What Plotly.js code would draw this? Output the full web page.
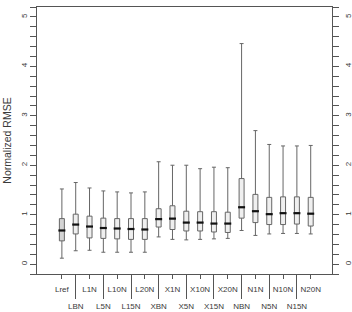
<!DOCTYPE html>
<html>
<head>
<meta charset="utf-8">
<script src="https://cdn.plot.ly/plotly-3.0.1.min.js"></script>
<style>html,body{margin:0;padding:0;background:#fff;}#chart{width:352px;height:312px;}</style>
</head>
<body>
<div id="chart"></div>
<script>
var categories = ["Lref","LBN","L1N","L5N","L10N","L15N","L20N",
                  "XBN","X1N","X5N","X10N","X15N","X20N",
                  "NBN","N1N","N5N","N10N","N15N","N20N"];
var lowerWhisker = [0.12,0.27,0.28,0.24,0.24,0.24,0.24,0.55,0.50,0.49,0.50,0.51,0.52,0.68,0.58,0.61,0.62,0.62,0.61];
var q1Values     = [0.47,0.61,0.53,0.52,0.51,0.50,0.50,0.75,0.70,0.67,0.67,0.65,0.64,0.93,0.84,0.80,0.80,0.81,0.77];
var medianValues = [0.68,0.80,0.76,0.73,0.72,0.71,0.70,0.91,0.92,0.84,0.84,0.82,0.82,1.15,1.07,1.01,1.03,1.03,1.02];
var q3Values     = [0.92,1.01,0.97,0.93,0.92,0.92,0.92,1.12,1.18,1.07,1.06,1.06,1.05,1.73,1.41,1.35,1.36,1.36,1.35];
var upperWhisker = [1.52,1.65,1.54,1.48,1.46,1.44,1.46,2.07,2.00,2.00,1.93,1.96,1.95,4.46,2.70,2.42,2.39,2.39,2.40];
var yTickVals = [0,1,2,3,4,5];

var pos = categories.map(function(c,i){return i+1;});
var oddPos = pos.filter(function(p,i){return i%2===0;});
var oddLab = categories.filter(function(c,i){return i%2===0;});
var evenPos = pos.filter(function(p,i){return i%2===1;});
var evenLab = categories.filter(function(c,i){return i%2===1;});

function sub(arr, from){ return arr.slice(from); }

var frameColor = '#555';
var textColor = '#3a3a3a';
var fontFam = 'Liberation Sans, Arial, sans-serif';

var traces = [
  {type:'box', x:pos.slice(0,1), q1:q1Values.slice(0,1), median:medianValues.slice(0,1), q3:q3Values.slice(0,1),
   lowerfence:lowerWhisker.slice(0,1), upperfence:upperWhisker.slice(0,1),
   width:0.36, whiskerwidth:0.8, boxpoints:false, fillcolor:'#d4d4d4',
   line:{color:'#666', width:1}, hoverinfo:'skip', showlegend:false},
  {type:'box', x:sub(pos,1), q1:sub(q1Values,1), median:sub(medianValues,1), q3:sub(q3Values,1),
   lowerfence:sub(lowerWhisker,1), upperfence:sub(upperWhisker,1),
   width:0.36, whiskerwidth:0.8, boxpoints:false, fillcolor:'#efefef',
   line:{color:'#666', width:1}, hoverinfo:'skip', showlegend:false},
  {type:'scatter', mode:'markers', x:pos, y:medianValues,
   marker:{symbol:'line-ew', size:5, line:{color:'#111', width:2.2}},
   hoverinfo:'skip', showlegend:false},
  {type:'scatter', mode:'markers', x:pos, y:medianValues, xaxis:'x2', yaxis:'y2',
   marker:{opacity:0, size:1}, hoverinfo:'skip', showlegend:false}
];

var xr = [-0.8, 20.54];
var yr = [-0.2, 5.2];
var tickFont = {family:fontFam, size:8, color:textColor};

var layout = {
  width:352, height:312,
  margin:{l:37, r:20, t:7, b:38},
  paper_bgcolor:'#fff', plot_bgcolor:'#fff',
  showlegend:false,
  xaxis:{range:xr, showgrid:false, zeroline:false, showline:true, mirror:true,
         linecolor:frameColor, linewidth:1,
         tickmode:'array', tickvals:oddPos, ticktext:oddLab,
         ticks:'outside', ticklen:4, tickcolor:frameColor, tickfont:tickFont,
         ticklabelstandoff:3},
  xaxis2:{range:xr, overlaying:'x', anchor:'y', side:'bottom', showgrid:false, zeroline:false,
          showline:false, tickmode:'array', tickvals:evenPos, ticktext:evenLab,
          ticks:'outside', ticklen:24, tickcolor:frameColor, tickfont:tickFont},
  yaxis:{range:yr, showgrid:false, zeroline:false, showline:true, mirror:true,
         linecolor:frameColor, linewidth:1,
         tickmode:'array', tickvals:yTickVals, ticks:'outside', ticklen:6, tickcolor:frameColor,
         tickangle:-90, tickfont:tickFont,
         minor:{dtick:0.2, ticks:'outside', ticklen:6, tickcolor:frameColor},
         title:{text:'Normalized RMSE', font:{family:fontFam, size:10.5, color:textColor}, standoff:6}},
  yaxis2:{range:yr, overlaying:'y', anchor:'x', side:'right', showgrid:false, zeroline:false,
          showline:false, tickmode:'array', tickvals:yTickVals, ticks:'outside', ticklen:6,
          tickcolor:frameColor, tickangle:-90, tickfont:tickFont, ticklabelstandoff:2,
          minor:{dtick:0.2, ticks:'outside', ticklen:6, tickcolor:frameColor}}
};

Plotly.newPlot('chart', traces, layout, {displayModeBar:false, staticPlot:true});
</script>
</body>
</html>
